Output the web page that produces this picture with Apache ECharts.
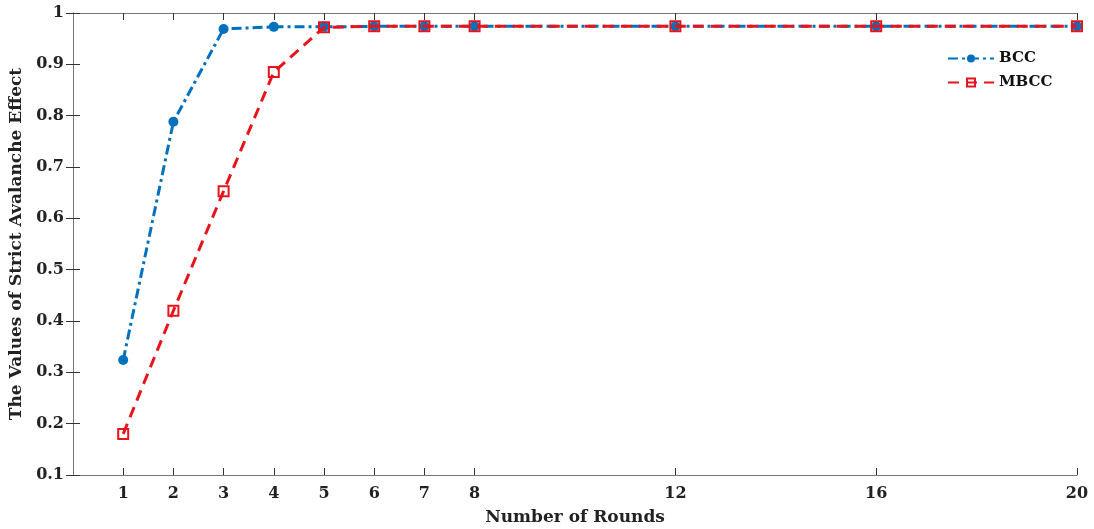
<!DOCTYPE html>
<html>
<head>
<meta charset="utf-8">
<script src="https://cdn.jsdelivr.net/npm/echarts@6/dist/echarts.min.js"></script>
<style>
	html, body { margin: 0; padding: 0; background: #fff; }
	#main { width: 1094px; height: 529px; }
</style>
</head>
<body>
<div id="main"></div>
<script>
var rounds = [1, 2, 3, 4, 5, 6, 7, 8, 12, 16, 20];
var bccValues = [0.324, 0.788, 0.969, 0.973, 0.973, 0.974, 0.974, 0.974, 0.974, 0.974, 0.974];
var mbccValues = [0.180, 0.420, 0.653, 0.885, 0.972, 0.974, 0.974, 0.974, 0.974, 0.974, 0.974];

function pairs(xs, ys) {
	var out = [];
	for (var i = 0; i < xs.length; i++) {
		out.push([xs[i], ys[i]]);
	}
	return out;
}

var font = 'DejaVu Serif';
var boxColor = '#777';

var option = {
	animation : false,
	backgroundColor : '#fff',
	grid : {
		left : 73,
		right : 17,
		top : 13,
		bottom : 54,
		outerBoundsMode : 'none'
	},
	legend : {
		orient : 'vertical',
		left : 942,
		top : 46,
		itemWidth : 46,
		itemHeight : 10,
		itemGap : 9,
		textStyle : {
			fontFamily : font,
			fontWeight : 'bold',
			fontSize : 15,
			color : '#111'
		},
		data : [ 'BCC', 'MBCC' ]
	},
	xAxis : [ {
		type : 'value',
		min : 0,
		max : 20,
		name : 'Number of Rounds',
		nameLocation : 'middle',
		nameGap : 34,
		nameTextStyle : {
			fontFamily : font,
			fontWeight : 'bold',
			fontSize : 17,
			color : '#222'
		},
		axisLine : { lineStyle : { color : boxColor, width : 1 } },
		axisTick : {
			inside : true,
			length : 7,
			customValues : rounds,
			lineStyle : { color : '#333' }
		},
		axisLabel : {
			customValues : rounds,
			margin : 11,
			fontFamily : font,
			fontWeight : 'bold',
			fontSize : 16,
			color : '#222'
		},
		splitLine : { show : false }
	}, {
		type : 'value',
		position : 'top',
		min : 0,
		max : 20,
		axisLine : { lineStyle : { color : boxColor, width : 1 } },
		axisTick : {
			inside : true,
			length : 7,
			customValues : rounds,
			lineStyle : { color : '#333' }
		},
		axisLabel : { show : false },
		splitLine : { show : false }
	} ],
	yAxis : [ {
		type : 'value',
		min : 0.1,
		max : 1,
		interval : 0.1,
		name : 'The Values of Strict Avalanche Effect',
		nameLocation : 'middle',
		nameGap : 46,
		nameTextStyle : {
			fontFamily : font,
			fontWeight : 'bold',
			fontSize : 17,
			color : '#222'
		},
		axisLine : { show : true, lineStyle : { color : boxColor, width : 1 } },
		axisTick : {
			show : true,
			inside : true,
			length : 7,
			lineStyle : { color : '#333' }
		},
		axisLabel : {
			margin : 9,
			fontFamily : font,
			fontWeight : 'bold',
			fontSize : 16,
			color : '#222',
			formatter : function(v) {
				return v === 1 ? '1' : v.toFixed(1);
			}
		},
		splitLine : { show : false }
	}, {
		type : 'value',
		position : 'right',
		min : 0.1,
		max : 1,
		interval : 0.1,
		axisLine : { show : true, lineStyle : { color : boxColor, width : 1 } },
		axisTick : {
			show : true,
			inside : true,
			length : 7,
			lineStyle : { color : '#333' }
		},
		axisLabel : { show : false },
		splitLine : { show : false }
	} ],
	series : [ {
		name : 'BCC',
		type : 'line',
		data : pairs(rounds, bccValues),
		symbol : 'circle',
		symbolSize : 10,
		z : 2,
		itemStyle : { color : '#0072BD' },
		lineStyle : {
			color : '#0072BD',
			width : 3,
			type : [ 10, 4, 3, 4 ]
		}
	}, {
		name : 'MBCC',
		type : 'line',
		data : pairs(rounds, mbccValues),
		symbol : 'rect',
		symbolSize : 10,
		z : 3,
		itemStyle : {
			color : 'rgba(255,255,255,0)',
			borderColor : '#E8141B',
			borderWidth : 2
		},
		lineStyle : {
			color : '#E8141B',
			width : 3,
			type : [ 11, 7 ]
		}
	} ]
};

var myChart = echarts.init(document.getElementById('main'));
myChart.setOption(option);
</script>
</body>
</html>
